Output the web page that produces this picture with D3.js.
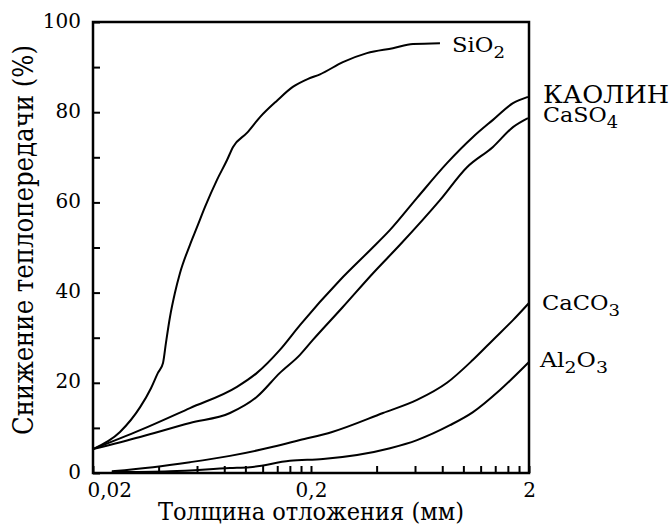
<!DOCTYPE html>
<meta charset="utf-8">
<script src="https://d3js.org/d3.v7.min.js"></script>
<style>
	body{
		margin:0;
		background:#fff;
	}
	svg text{
		font-family:'DejaVu Serif', serif;
		fill:#000;
	}
</style>
<div id="chart"></div>
<script>

	// values (thickness in mm, reduction in %)
	var sio2X = [0.02,0.0266,0.0329,0.0369,0.0397,0.0419,0.0432,0.0451,0.0475,0.0501,0.0557,0.060,0.0653,0.0741,0.0824,0.0878,0.1017,0.1167,0.140,0.165,0.194,0.220,0.280,0.361,0.475,0.587,0.781]
	var sio2Y = [5.3,9.1,14.6,18.8,22.2,24.4,28.8,34.6,39.9,44.3,50.6,54.5,59.0,65.0,69.4,72.3,75.4,78.9,82.6,85.6,87.4,88.4,91.1,93.1,94.2,95.1,95.3]

	var kaolinX = [0.02,0.0329,0.0557,0.0915,0.113,0.144,0.178,0.272,0.373,0.461,0.613,0.841,1.107,1.367,1.689,1.978]
	var kaolinY = [5.3,9.5,14.4,19.1,22.2,27.3,32.8,42.8,49.4,53.9,61.0,68.7,74.5,78.3,82.0,83.4]

	var caso4X = [0.02,0.0329,0.0557,0.085,0.113,0.144,0.178,0.204,0.280,0.385,0.512,0.781,1.039,1.367,1.689,1.978]
	var caso4Y = [5.3,8.0,11.1,13.3,16.9,22.2,26.2,29.5,36.8,44.3,50.6,60.5,67.8,72.3,76.7,78.7]

	var caco3X = [0.0244,0.0377,0.0557,0.085,0.134,0.178,0.25,0.428,0.613,0.841,1.107,1.367,1.689,2.0]
	var caco3Y = [0.4,1.3,2.4,3.8,5.8,7.3,9.1,13.3,16.2,20.0,25.1,29.5,33.9,37.7]

	var al2o3X = [0.0244,0.0451,0.085,0.105,0.160,0.227,0.461,0.613,0.868,1.107,1.472,2.0]
	var al2o3Y = [0.2,0.4,1.1,1.3,2.7,3.1,5.5,7.3,10.6,13.5,18.4,24.6]

	var xTicks = [0.02,0.04,0.06,0.08,0.1,0.12,0.14,0.16,0.18,0.2,0.4,0.6,0.8,1,1.2,1.4,1.6,1.8,2]
	var xTickLabels = [0.02,0.2,2]
	var yTicks = [0,10,20,30,40,50,60,70,80,90,100]
	var yTickLabels = [0,20,40,60,80,100]

	var xTitle = "Толщина отложения (мм)"
	var yTitle = "Снижение теплопередачи (%)"

	var w = 669
	var h = 525
	var pLeft = 93, pRight = 529, pTop = 22, pBottom = 473

	var svg = d3.select("#chart").append("svg")
		.attr("width",w)
		.attr("height",h)

	var x = d3.scaleLog().domain([0.02,2]).range([pLeft,pRight])
	var y = d3.scaleLinear().domain([0,100]).range([pBottom,pTop])

	// axes, ticks pointing inside
	var yAxis = svg.append("g")
		.attr("transform","translate("+pLeft+",0)")
		.call(d3.axisLeft(y)
			.tickValues(yTicks)
			.tickSize(-7)
			.tickPadding(12)
			.tickFormat(function(d){
				return yTickLabels.indexOf(d)>-1 ? d : ""
			}))
	yAxis.select(".domain").remove()
	yAxis.selectAll("line").attr("stroke","#000").attr("stroke-width",2)
	yAxis.selectAll("text")
		.style("font-family","'DejaVu Serif', serif")
		.style("font-size","20px")
		.attr("dy","0.25em")

	var xAxis = svg.append("g")
		.attr("transform","translate(0,"+pBottom+")")
		.call(d3.axisBottom(x)
			.tickValues(xTicks)
			.tickSize(-7)
			.tickPadding(10)
			.tickFormat(function(d){
				return xTickLabels.indexOf(d)>-1 ? String(d).replace(".",",") : ""
			}))
	xAxis.select(".domain").remove()
	xAxis.selectAll("line").attr("stroke","#000").attr("stroke-width",2)
	xAxis.selectAll("text")
		.style("font-family","'DejaVu Serif', serif")
		.style("font-size","20px")
		.attr("text-anchor",function(d){ return d==0.02 ? "start" : "middle" })
		.attr("dx",function(d){ return d==0.02 ? -6 : 0 })

	// frame
	svg.append("rect")
		.attr("x",pLeft)
		.attr("y",pTop)
		.attr("width",pRight-pLeft)
		.attr("height",pBottom-pTop)
		.attr("fill","none")
		.attr("stroke","#000")
		.attr("stroke-width",2.5)

	// curves
	var series = [
		{xs:sio2X, ys:sio2Y},
		{xs:kaolinX, ys:kaolinY},
		{xs:caso4X, ys:caso4Y},
		{xs:caco3X, ys:caco3Y},
		{xs:al2o3X, ys:al2o3Y}
	]

	var line = d3.line()
		.x(function(d){ return x(d[0]) })
		.y(function(d){ return y(d[1]) })
		.curve(d3.curveMonotoneX)

	svg.append("g")
		.selectAll("path")
		.data(series)
		.join("path")
		.attr("d",function(s){
			return line(s.xs.map(function(v,i){ return [v,s.ys[i]] }))
		})
		.attr("fill","none")
		.attr("stroke","#000")
		.attr("stroke-width",2)

	// curve labels, subscripts as smaller shifted tspans
	function label(parts,px,py,size,len){
		var t = svg.append("text")
			.attr("x",px)
			.attr("y",py)
			.style("font-size",size+"px")
		if(len){
			t.attr("textLength",len).attr("lengthAdjust","spacingAndGlyphs")
		}
		parts.forEach(function(p){
			var ts = t.append("tspan").text(p[0])
			if(p[1]){
				ts.attr("dy",p[1])
			}
			if(p[2]){
				ts.style("font-size",p[2]+"px")
			}
		})
	}
	label([["SiO"],["2",6,16]],452,52,20,53)
	label([["КАОЛИН"]],543,103,24,126)
	label([["CaSO"],["4",6,16]],543,122,20,75)
	label([["CaCO"],["3",6,16]],542,310,20,78)
	label([["Al"],["2",6,16],["O",-6],["3",6,16]],540,367,20,68)

	// axis titles
	svg.append("text")
		.attr("x",(pLeft+pRight)/2)
		.attr("y",520)
		.attr("text-anchor","middle")
		.attr("textLength",306)
		.attr("lengthAdjust","spacingAndGlyphs")
		.style("font-size","24px")
		.text(xTitle)

	svg.append("text")
		.attr("transform","translate(33,240) rotate(-90)")
		.attr("text-anchor","middle")
		.attr("textLength",390)
		.attr("lengthAdjust","spacingAndGlyphs")
		.style("font-size","28px")
		.text(yTitle)

</script>
